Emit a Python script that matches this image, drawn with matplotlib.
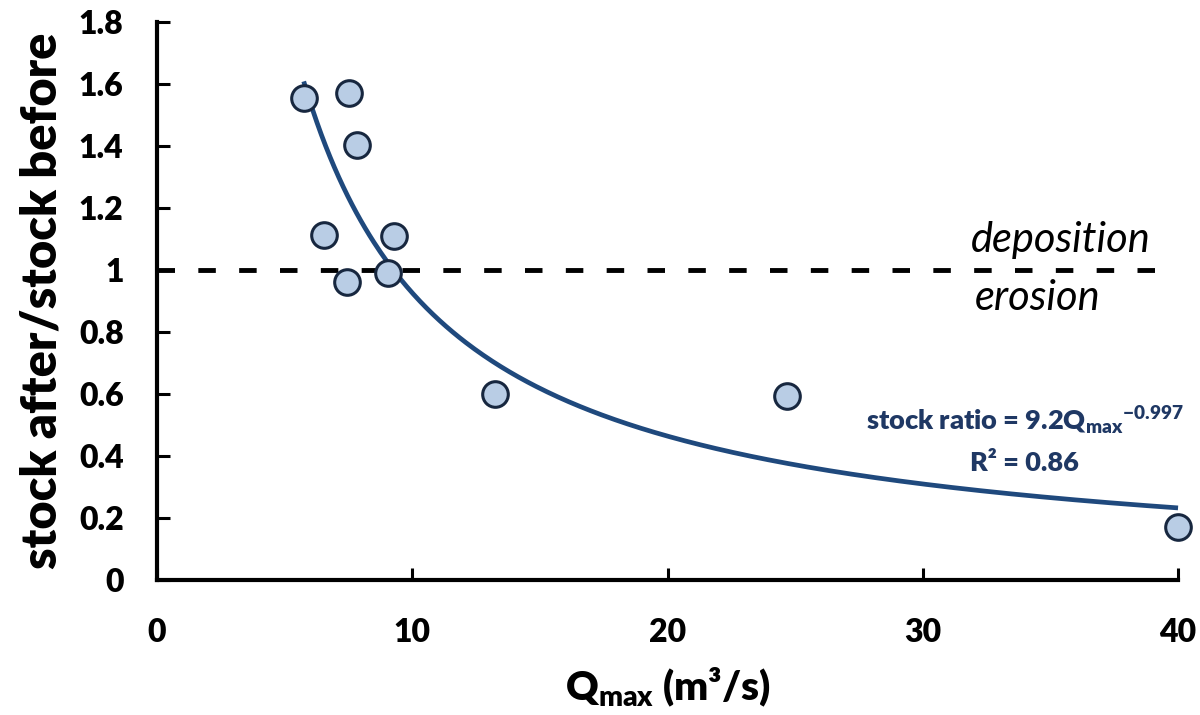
import numpy as np
import matplotlib
matplotlib.use("Agg")
import matplotlib.pyplot as plt

plt.rcParams['font.family'] = ['Lato', 'DejaVu Sans']
plt.rcParams['mathtext.fontset'] = 'custom'
plt.rcParams['mathtext.rm'] = 'Lato:heavy'
plt.rcParams['mathtext.bf'] = 'Lato:heavy'
plt.rcParams['mathtext.it'] = 'Lato:heavy:italic'

# Peak discharge (m3/s) and sediment stock ratio for each event
q_max = [5.76, 7.53, 7.85, 6.56, 9.28, 7.46, 9.04, 13.24, 24.68, 40.0]
stock_ratio = [1.554, 1.572, 1.403, 1.112, 1.11, 0.962, 0.989, 0.60, 0.594, 0.172]

# Power-law fit: stock ratio = a * Qmax^b
fit_a = 9.2
fit_b = -0.997
fit_range = [5.75, 40.0]

x_ticks = [0, 10, 20, 30, 40]
y_ticks = [0, 0.2, 0.4, 0.6, 0.8, 1.0, 1.2, 1.4, 1.6, 1.8]
y_tick_labels = ['0', '0.2', '0.4', '0.6', '0.8', '1', '1.2', '1.4', '1.6', '1.8']

W = 'heavy'

fig = plt.figure(figsize=(12, 7.15), dpi=100)
ax = fig.add_axes([0.1308, 0.1888, 0.9817 - 0.1308, 0.9692 - 0.1888])

# Deposition / erosion threshold
ax.plot([0, 40], [1, 1], color='black', lw=3.5, dashes=(3.6, 4.8), zorder=1)

qq = np.linspace(fit_range[0], fit_range[1], 400)
ax.plot(qq, fit_a * qq ** fit_b, color='#1f497d', lw=3.4, zorder=2,
        solid_capstyle='butt', clip_on=False)

ax.scatter(q_max, stock_ratio, s=340, facecolor='#b9cde5', edgecolor='#17273f',
           linewidth=2.2, zorder=3, clip_on=False)

ax.set_xlim(0, 40)
ax.set_ylim(0, 1.8)
ax.set_xticks(x_ticks)
ax.set_yticks(y_ticks)
ax.set_yticklabels(y_tick_labels)

for side in ('top', 'right'):
    ax.spines[side].set_visible(False)
for side in ('left', 'bottom'):
    ax.spines[side].set_linewidth(3)
ax.tick_params(axis='both', direction='in', length=9, width=2.2,
               labelsize=23)
ax.tick_params(axis='y', pad=24)
ax.tick_params(axis='x', pad=27)
for lbl in ax.get_xticklabels() + ax.get_yticklabels():
    lbl.set_fontweight(W)

ax.set_ylabel('stock after/stock before', fontsize=35, fontweight=W,
              labelpad=10)
ax.set_xlabel('Q$_{\\mathrm{max}}$ (m³/s)', fontsize=29, fontweight=W,
              labelpad=14)

ax.text(35.4, 1.097, 'deposition', fontsize=30, style='italic',
        ha='center', va='center')
ax.text(34.5, 0.91, 'erosion', fontsize=30, style='italic',
        ha='center', va='center')

ax.text(34.0, 0.513, 'stock ratio = 9.2Q$_{\\mathrm{max}}$$^{\\mathrm{-0.997}}$',
        fontsize=19.5, fontweight=W, color='#1f3864', ha='center', va='center')
ax.text(34.0, 0.377, 'R² = 0.86', fontsize=19.5, fontweight=W,
        color='#1f3864', ha='center', va='center')

fig.savefig('out.png', dpi=100)
